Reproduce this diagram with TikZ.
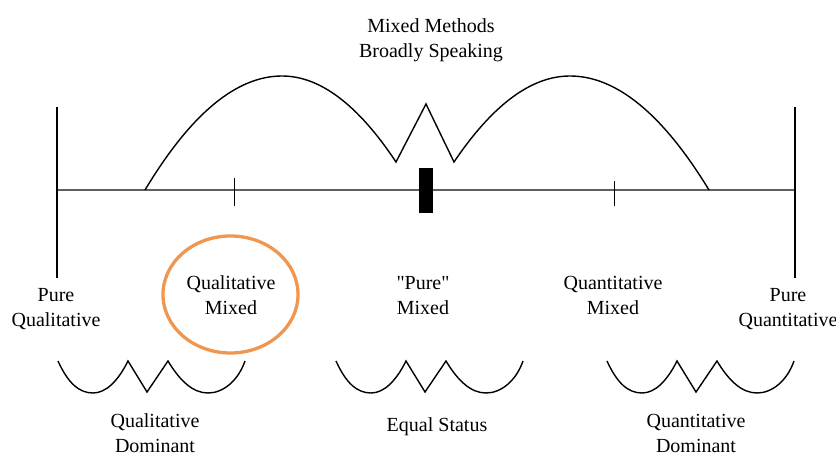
\documentclass[tikz,border=0pt]{standalone}
\usepackage{fontspec}
\setmainfont{Liberation Serif}
\newfontfamily\plainquotes[Ligatures=TeXOff]{Liberation Serif}
\definecolor{axisgray}{RGB}{95,95,95}
\definecolor{hiorange}{RGB}{240,150,78}
\tikzset{
  lbl/.style={inner sep=0pt, align=center, font=\fontsize{20}{25}\selectfont},
  curveline/.style={line width=1.4pt, black, line join=miter},
  axisline/.style={line width=2.6pt, axisgray},
  endline/.style={line width=1.2pt, black},
  tickline/.style={line width=1.2pt, black},
  wshape/.pic={
    \draw[curveline] (0,0) .. controls (10,22) and (21,32) .. (35,32)
      .. controls (48,32) and (60,20) .. (70,0) -- (89,31) -- (110,0)
      .. controls (122,20) and (135,32) .. (150,32)
      .. controls (165,32) and (180,20) .. (187,0);
  }
}
\begin{document}
\begin{tikzpicture}[x=1pt,y=-1pt]
\useasboundingbox (0,0) rectangle (836,457);
% axis
\coordinate (axL) at (57,190);
\coordinate (axR) at (795,190);
\draw[axisline] (axL) -- (axR);
% end lines
\coordinate (lTop) at (57,107);
\coordinate (lBot) at (57,278);
\coordinate (rTop) at (795,107);
\coordinate (rBot) at (795,278);
\draw[endline] (lTop) -- (lBot);
\draw[endline] (rTop) -- (rBot);
% ticks
\coordinate (t1a) at (234.5,178);
\coordinate (t1b) at (234.5,206);
\coordinate (t2a) at (614.5,181);
\coordinate (t2b) at (614.5,206);
\draw[tickline] (t1a) -- (t1b);
\draw[tickline] (t2a) -- (t2b);
% center block
\node[fill=black, inner sep=0pt, minimum width=14pt, minimum height=45pt] (blk) at (425.5,190.5) {};
% big arcs
\coordinate (a0) at (145,190);
\coordinate (a1) at (282,76);
\coordinate (a2) at (396,162);
\coordinate (a3) at (426,104);
\coordinate (a4) at (454,162);
\coordinate (a5) at (570,76);
\coordinate (a6) at (709,190);
\draw[curveline] (a0) .. controls (190.7,114) and (236.3,76) .. (a1)
  .. controls (320,76) and (358,104.7) .. (a2) -- (a3) -- (a4)
  .. controls (492.7,104.7) and (531.3,76) .. (a5)
  .. controls (616.3,76) and (662.7,114) .. (a6);
% bottom W shapes
\pic at (58,361) {wshape};
\pic at (336,361) {wshape};
\pic at (607,361) {wshape};
% texts
\node[lbl] (top) at (431,40) {Mixed Methods\\Broadly Speaking};
\node[lbl] (pql) at (56,309) {Pure\\Qualitative};
\node[lbl] (qlm) at (231,295.5) {Qualitative\\Mixed};
\node[lbl] (pm) at (423,295.5) {{\plainquotes "Pure"}\\Mixed};
\node[lbl] (qnm) at (613,295.5) {Quantitative\\Mixed};
\node[lbl] (pqn) at (788,309) {Pure\\Quantitative};
\node[lbl] (qld) at (155,433.5) {Qualitative\\Dominant};
\node[lbl] (eqs) at (437,427) {Equal Status};
\node[lbl] (qnd) at (696,433.5) {Quantitative\\Dominant};
% highlight ellipse
\draw[hiorange, line width=3.3pt] (230.5,294.5) ellipse [x radius=67.5pt, y radius=58.5pt];
\end{tikzpicture}
\end{document}
